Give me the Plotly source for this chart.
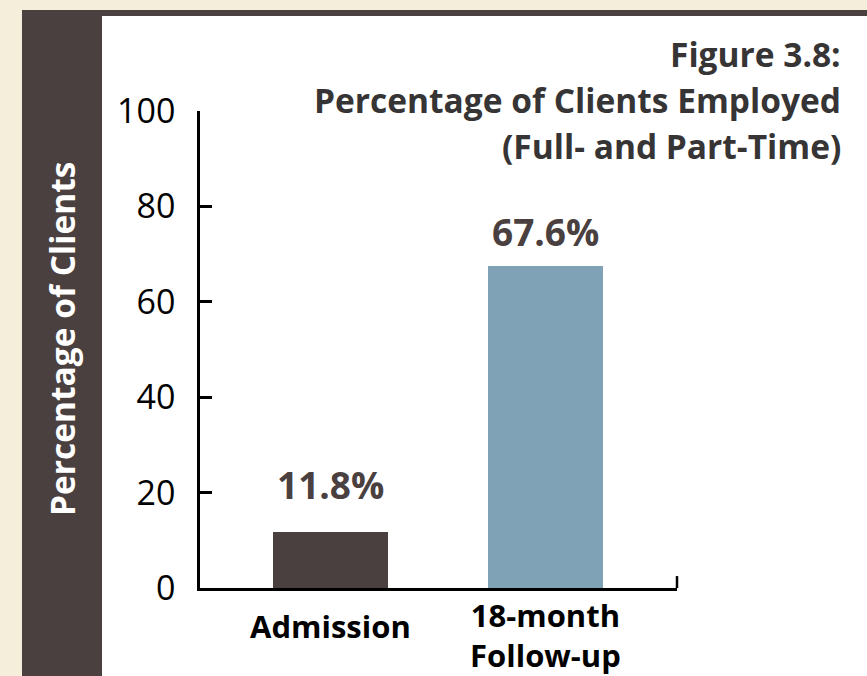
import plotly.graph_objects as go

# Data
categories = ["Admission", "18-month Follow-up"]
category_labels = ["Admission", "18-month<br>Follow-up"]
employed_pct = [11.8, 67.6]
y_ticks = [0, 20, 40, 60, 80, 100]
title_lines = ["Figure 3.8:", "Percentage of Clients Employed", "(Full- and Part-Time)"]
y_title = "Percentage of Clients"

# Styles
BROWN = "#4A403F"
BLUE = "#7FA2B7"
BEIGE = "#F4EEDA"
TITLE_COLOR = "#363434"
FONT = "Open Sans"

W, H = 867, 676
L, R, T, B = 200, 190, 111, 88
plot_h = H - T - B


def px_to_paper_x(px):
    return (px - L) / (W - L - R)


def px_to_paper_y(py):
    return (H - B - py) / plot_h


fig = go.Figure()
fig.add_trace(
    go.Bar(
        x=categories,
        y=employed_pct,
        marker=dict(color=[BROWN, BLUE], line=dict(width=0)),
        width=0.535,
        hoverinfo="skip",
    )
)

shapes = [
    # dark frame behind the panel
    dict(type="rect", xref="paper", yref="paper", layer="below",
         x0=px_to_paper_x(22), x1=px_to_paper_x(W + 20),
         y0=px_to_paper_y(H + 20), y1=px_to_paper_y(10),
         fillcolor=BROWN, line=dict(width=0)),
    # white chart panel
    dict(type="rect", xref="paper", yref="paper", layer="below",
         x0=px_to_paper_x(102), x1=px_to_paper_x(W + 20),
         y0=px_to_paper_y(H + 20), y1=px_to_paper_y(16),
         fillcolor="white", line=dict(width=0)),
    # end tick on the category axis
    dict(type="line", xref="x domain", yref="y", x0=1, x1=1, y0=0, y1=2.5,
         line=dict(color="black", width=2.5)),
]

annotations = []

# title block, right aligned
title_centers = [54, 100, 146]
for line, cy in zip(title_lines, title_centers):
    annotations.append(dict(
        text=f"<b>{line}</b>", xref="paper", yref="paper",
        x=px_to_paper_x(843), y=px_to_paper_y(cy),
        xanchor="right", yanchor="middle", showarrow=False,
        font=dict(family=FONT, size=33.5, color=TITLE_COLOR),
    ))

# rotated y-axis title in the dark side strip
annotations.append(dict(
    text=f"<b>{y_title}</b>", xref="paper", yref="paper",
    x=px_to_paper_x(62), y=px_to_paper_y(339), textangle=-90,
    xanchor="center", yanchor="middle", showarrow=False,
    font=dict(family=FONT, size=33.5, color="white"),
))

# value labels above the bars
label_offsets = [47, 34]
for cat, v, off in zip(categories, employed_pct, label_offsets):
    annotations.append(dict(
        text=f"<b>{v}%</b>", xref="x", yref="y", x=cat, y=v,
        yanchor="middle", xanchor="center", yshift=off, showarrow=False,
        font=dict(family=FONT, size=37, color=BROWN),
    ))

# category labels under the axis
label_centers = [626, 635]
for cat, lab, cy in zip(categories, category_labels, label_centers):
    annotations.append(dict(
        text=f"<b>{lab}</b>", xref="x", yref="paper", x=cat,
        y=px_to_paper_y(cy), xanchor="center", yanchor="middle",
        showarrow=False,
        font=dict(family=FONT, size=31, color="black"),
    ))

fig.update_layout(
    width=W, height=H,
    margin=dict(l=L, r=R, t=T, b=B, pad=0),
    paper_bgcolor=BEIGE,
    plot_bgcolor="white",
    showlegend=False,
    bargap=0,
    shapes=shapes,
    annotations=annotations,
    xaxis=dict(
        type="category", range=[-0.607, 1.612],
        showticklabels=False, ticks="", showgrid=False, zeroline=False,
        showline=True, linecolor="black", linewidth=2.5,
        fixedrange=True,
    ),
    yaxis=dict(
        range=[0, 100], tickvals=y_ticks,
        ticks="inside", ticklen=12, tickwidth=2.5, tickcolor="black",
        showgrid=False, zeroline=False,
        showline=True, linecolor="black", linewidth=2.5,
        tickfont=dict(family=FONT, size=34, color="black"),
        ticklabelstandoff=15,
        fixedrange=True,
    ),
)

fig.write_html("out.html", config={"displayModeBar": False})
